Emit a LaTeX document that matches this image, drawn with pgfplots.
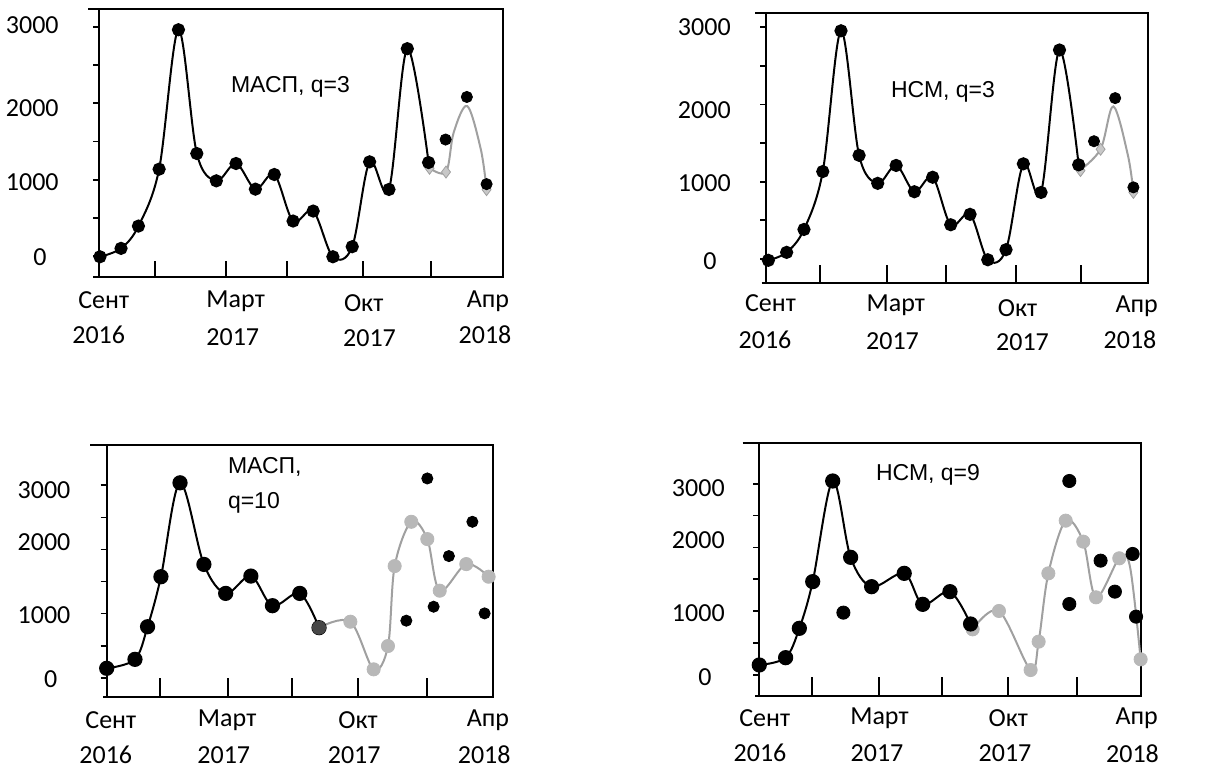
\documentclass[border=0pt]{standalone}
\usepackage{pgfplots}
\pgfplotsset{compat=1.18}
\usepackage{fontspec}
\setmainfont{Carlito}
\newfontfamily\ann{Liberation Sans}
\definecolor{gline}{HTML}{A0A0A0}
\definecolor{gmark}{HTML}{B8B8B8}
\definecolor{gdia}{HTML}{C8C8C8}
\begin{document}
\begin{tikzpicture}
\path (0,0) rectangle (604.5pt,384.5pt);
\pgfplotsset{
  panel/.style={
    scale only axis, anchor=south west, clip=false,
    axis line style={line width=1pt, black},
    xtick=\empty, ytick pos=left, tick align=outside,
    ytick={0,1000,2000,3000}, minor ytick={500,1500,2500},
    yticklabels={}, major tick length=3pt, minor tick length=3pt,
    every tick/.style={black, line width=0.9pt},
  },
  bl/.style={black, line width=1pt, smooth, tension=0.55, mark=*, mark size=2.8pt, mark options={fill=black,draw=black}},
  bd/.style={only marks, mark=*, mark size=#1, mark options={fill=black,draw=black}},
  gl/.style={gline, line width=1pt, smooth, tension=0.55},
  gm/.style={only marks, mark=*, mark size=3.3pt, mark options={fill=gmark, draw=gmark}},
}
% ---------- panel 1 ----------
\begin{axis}[panel, at={(49.5pt,246pt)}, width=202pt, height=134pt,
  xmin=-0.05, xmax=20.85, ymin=-275, ymax=3237]
\addplot[gl] coordinates {(17,1160) (17.9,1100) (18.3,1620) (19,1965) (19.7,1400) (20,875)};
\addplot[only marks, mark=diamond*, mark size=3pt, mark options={fill=gdia, draw=gline}] coordinates {(17.05,1150) (17.9,1100) (20,870)};
\addplot[bl] coordinates {(0,-10) (1.09,100) (1.99,392) (3.06,1138) (4.06,2965) (5.01,1343) (6.02,985) (7.04,1212) (8.04,876) (9.02,1068) (9.99,458) (11.03,589) (12.05,-10) (13.05,122) (13.95,1234) (14.95,872) (15.90,2717) (17.0,1225)};
\addplot[bd=2.8pt] coordinates {(17.88,1526) (18.98,2084) (20.0,942)};
\foreach \t in {2.85,6.5,9.7,13.6,17.1}{\edef\tmp{\noexpand\draw[line width=1pt] (axis cs:\t,-275) -- ++(0pt,8pt);}\tmp}
\end{axis}
% ---------- panel 2 ----------
\begin{axis}[panel, at={(383pt,243pt)}, width=191pt, height=135.2pt,
  xmin=-0.13, xmax=20.8, ymin=-314, ymax=3192]
\addplot[gl] coordinates {(17.05,1144) (18.2,1420) (18.9,1975) (19.7,1340) (20,860)};
\addplot[only marks, mark=diamond*, mark size=3pt, mark options={fill=gdia, draw=gline}] coordinates {(17.1,1144) (18.2,1420) (20,860)};
\addplot[bl] coordinates {(0,-20) (1.0,83) (1.95,380) (2.98,1131) (3.98,2956) (4.97,1341) (5.99,978) (7.0,1210) (8.0,869) (9.0,1057) (9.99,441) (11.05,576) (12.02,-13) (13.02,118) (13.97,1231) (14.94,860) (15.95,2707) (17.0,1218)};
\addplot[bd=2.8pt] coordinates {(17.84,1524) (19.0,2083) (20.0,926)};
\foreach \t in {2.83,6.49,9.74,13.58,17.13}{\edef\tmp{\noexpand\draw[line width=1pt] (axis cs:\t,-314) -- ++(0pt,9pt);}\tmp}
\end{axis}
% ---------- panel 3 ----------
\begin{axis}[panel, at={(53.35pt,35.85pt)}, width=193.15pt, height=126.15pt,
  xmin=0, xmax=20.23, ymin=-306, ymax=3630]
\addplot[gl] coordinates {(11.12,780) (12.76,873) (13.98,130) (14.73,494) (15.08,1741) (15.95,2432) (16.79,2162) (17.44,1357) (18.83,1772) (20.0,1575)};
\addplot[gm] coordinates {(12.76,873) (13.98,130) (14.73,494) (15.08,1741) (15.95,2432) (16.79,2162) (17.44,1357) (18.83,1772) (20.0,1575)};
\addplot[bl, mark size=3.3pt] coordinates {(0,146) (1.48,286) (2.14,795) (2.84,1575) (3.84,3040) (5.09,1767) (6.23,1315) (7.55,1585) (8.68,1123) (10.11,1315) (11.12,780)};
\addplot[only marks, mark=*, mark size=3.3pt, mark options={fill=black!72, draw=black!72}] coordinates {(11.12,780)};
\addplot[bd=2.8pt] coordinates {(15.69,889) (16.79,3108) (17.12,1107) (17.92,1897) (19.15,2432) (19.79,1003)};
\foreach \t in {2.79,6.33,9.71,13.16,16.79}{\edef\tmp{\noexpand\draw[line width=1pt] (axis cs:\t,-306) -- ++(0pt,9.5pt);}\tmp}
\end{axis}
% ---------- panel 4 ----------
\begin{axis}[panel, at={(379.65pt,36.5pt)}, width=190.85pt, height=126.35pt,
  xmin=0, xmax=20.02, ymin=-329, ymax=3633]
\addplot[gl] coordinates {(11.19,716) (12.57,1004) (14.23,78) (14.65,523) (15.16,1594) (16.07,2420) (16.99,2091) (17.66,1218) (18.88,1830) (19.44,1700) (20.0,246)};
\addplot[gm] coordinates {(11.19,716) (12.57,1004) (14.23,78) (14.65,523) (15.16,1594) (16.07,2420) (16.99,2091) (17.66,1218) (18.88,1830) (20.0,246)};
\addplot[bl, mark size=3.3pt] coordinates {(0,157) (1.38,272) (2.10,732) (2.80,1464) (3.85,3042) (4.79,1845) (5.89,1385) (7.60,1594) (8.57,1108) (10.0,1307) (11.08,800)};
\addplot[bd=3.3pt] coordinates {(4.41,978) (16.26,3042) (16.26,1113) (17.90,1793) (18.65,1307) (19.58,1898) (19.76,915)};
\foreach \t in {2.78,6.28,9.60,13.02,16.64}{\edef\tmp{\noexpand\draw[line width=1pt] (axis cs:\t,-329) -- ++(0pt,9.5pt);}\tmp}
\end{axis}
% ---------- text and frame extras (pixel coordinates) ----------
\begin{scope}[x=0.5pt, y=-0.5pt, yshift=384.5pt, line width=1pt]
\draw (88,9) -- (99,9); \draw (93,277) -- (99,277);
\draw (755,12.7) -- (766,12.7); \draw (761.7,283) -- (766,283);
\draw (90,445) -- (106.7,445); \draw (103,697.3) -- (106.7,697.3);
\draw (742.7,443.3) -- (759.3,443.3); \draw (755,696) -- (759.3,696);
\tikzset{lab/.style={font=\fontsize{13}{15}\selectfont, inner sep=0pt}}
% y labels
\node[lab] at (32.3,25) {3000}; \node[lab] at (32.3,108.3) {2000};
\node[lab] at (32.3,181.7) {1000}; \node[lab] at (40,256.7) {0};
\node[lab] at (704.3,26.7) {3000}; \node[lab] at (704.3,110) {2000};
\node[lab] at (704.3,183.3) {1000}; \node[lab] at (710,261) {0};
\node[lab] at (44,490) {3000}; \node[lab] at (44,541.7) {2000};
\node[lab] at (44,615) {1000}; \node[lab] at (50.7,679.3) {0};
\node[lab] at (698.3,488.3) {3000}; \node[lab] at (698.3,540) {2000};
\node[lab] at (698.3,612.7) {1000}; \node[lab] at (705,676.7) {0};
% x labels
\node[lab] at (103.7,300) {Сент}; \node[lab] at (98.7,335) {2016};
\node[lab] at (235.7,301.7) {Март}; \node[lab] at (232.8,337) {2017};
\node[lab] at (363.7,303) {Окт}; \node[lab] at (369.5,338) {2017};
\node[lab] at (488,301.7) {Апр}; \node[lab] at (485,335) {2018};
\node[lab] at (770.5,303.3) {Сент}; \node[lab] at (765,340) {2016};
\node[lab] at (895.8,305) {Март}; \node[lab] at (892.5,340.7) {2017};
\node[lab] at (1017.5,308.3) {Окт}; \node[lab] at (1022.5,341.7) {2017};
\node[lab] at (1136.7,306.7) {Апр}; \node[lab] at (1130,339.3) {2018};
\node[lab] at (110.8,720) {Сент}; \node[lab] at (105.8,755) {2016};
\node[lab] at (227.2,720) {Март}; \node[lab] at (223.8,755) {2017};
\node[lab] at (358,720) {Окт}; \node[lab] at (354.2,755) {2017};
\node[lab] at (488,720) {Апр}; \node[lab] at (484.2,755) {2018};
\node[lab] at (764.7,718.3) {Сент}; \node[lab] at (760,753.3) {2016};
\node[lab] at (879.5,718.3) {Март}; \node[lab] at (877,753.3) {2017};
\node[lab] at (1008.3,718.3) {Окт}; \node[lab] at (1005,753.3) {2017};
\node[lab] at (1136.7,718.3) {Апр}; \node[lab] at (1132.5,753.3) {2018};
% annotations
\tikzset{an/.style={font=\ann\fontsize{11.5}{13}\selectfont, inner sep=0pt}}
\node[an, anchor=west] at (230,87) {МАСП, q=3};
\node[an] at (943,92) {НСМ, q=3};
\node[an, anchor=west] at (227,467) {МАСП,};
\node[an, anchor=west] at (227,503) {q=10};
\node[an] at (928,475) {НСМ, q=9};
\end{scope}
\end{tikzpicture}
\end{document}
